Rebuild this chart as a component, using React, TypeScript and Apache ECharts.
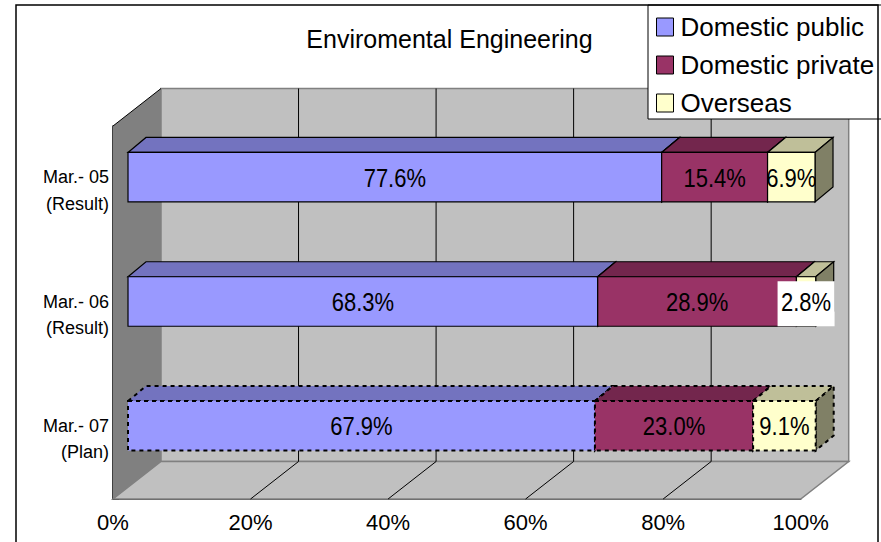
import React, { useEffect, useRef } from "react";
import * as echarts from "echarts";

const categories = ["Mar.- 05\n(Result)", "Mar.- 06\n(Result)", "Mar.- 07\n(Plan)"];
const seriesNames = ["Domestic public", "Domestic private", "Overseas"];
const domesticPublic = [77.6, 68.3, 67.9];
const domesticPrivate = [15.4, 28.9, 23.0];
const overseas = [6.9, 2.8, 9.1];
const xTicks = [0, 20, 40, 60, 80, 100];
const planRow = 2;

const FRONT = ["#9999FF", "#993366", "#FFFFCC"];
const TOP = ["#7373BF", "#73264D", "#BFBF99"];
const SIDE = ["#4D4D80", "#4D1A33", "#808066"];
const FONT = "'Liberation Sans', Arial, sans-serif";
const WALL_DX = 48, WALL_DY = 37.5;
const BAR_DX = 18, BAR_DY = 15, BAR_H = 49.5, BAR_OFF_X = 15, BAR_OFF_Y = 11;

const seriesValues = [domesticPublic, domesticPrivate, overseas];

function wallSeries(): any {
  return {
    type: "custom",
    name: "walls",
    silent: true,
    z: 1,
    clip: false,
    data: xTicks.map((t) => [t, 0]),
    encode: { x: 0, y: 1 },
    renderItem: (params: any, api: any) => {
      const cs = params.coordSys;
      const v = api.value(0);
      const x = api.coord([v, 0])[0];
      const top = cs.y, bot = cs.y + cs.height;
      const children: any[] = [];
      if (v === 0) {
        const right = cs.x + cs.width;
        children.push(
          { type: "polygon", shape: { points: [[cs.x + WALL_DX, top - WALL_DY], [right + WALL_DX, top - WALL_DY], [right + WALL_DX, bot - WALL_DY], [cs.x + WALL_DX, bot - WALL_DY]] }, style: { fill: "#C0C0C0", stroke: "#808080", lineWidth: 1.5 } },
          { type: "polygon", shape: { points: [[cs.x, bot], [right, bot], [right + WALL_DX, bot - WALL_DY], [cs.x + WALL_DX, bot - WALL_DY]] }, style: { fill: "#C0C0C0", stroke: "#808080", lineWidth: 1.5 } },
          { type: "polygon", shape: { points: [[cs.x, top], [cs.x + WALL_DX, top - WALL_DY], [cs.x + WALL_DX, bot - WALL_DY], [cs.x, bot]] }, style: { fill: "#808080", stroke: "none" } },
          { type: "line", shape: { x1: cs.x, y1: top, x2: cs.x + WALL_DX, y2: top - WALL_DY }, style: { stroke: "#000", lineWidth: 1 } }
        );
      } else if (v !== 100) {
        children.push(
          { type: "line", shape: { x1: x + WALL_DX, y1: top - WALL_DY, x2: x + WALL_DX, y2: bot - WALL_DY }, style: { stroke: "#000", lineWidth: 1 } },
          { type: "line", shape: { x1: x + WALL_DX, y1: bot - WALL_DY, x2: x, y2: bot }, style: { stroke: "#000", lineWidth: 1 } }
        );
      }
      return { type: "group", children };
    },
  };
}

function barSeries(si: number): any {
  const data = categories.map((_, row) => {
    let start = 0;
    for (let k = 0; k < si; k++) start += seriesValues[k][row];
    return [start, row, start + seriesValues[si][row], seriesValues[si][row]];
  });
  return {
    type: "custom",
    name: seriesNames[si],
    z: 5 + si,
    clip: false,
    data,
    encode: { x: [0, 2], y: 1 },
    itemStyle: { color: FRONT[si] },
    renderItem: (_p: any, api: any) => {
      const row = api.value(1);
      const a = api.coord([api.value(0), row]);
      const b = api.coord([api.value(2), row]);
      const x0 = a[0] + BAR_OFF_X, x1 = b[0] + BAR_OFF_X;
      const yc = a[1] - BAR_OFF_Y;
      const y0 = yc - BAR_H / 2, y1 = yc + BAR_H / 2;
      const plan = row === planRow;
      const line = plan
        ? { stroke: "#000", lineWidth: 2, lineDash: [4, 4] }
        : { stroke: "#000", lineWidth: 1.2 };
      const val = api.value(3);
      const whiteBox = row === 1 && si === 2;
      const children: any[] = [
        { type: "polygon", shape: { points: [[x0, y0], [x0 + BAR_DX, y0 - BAR_DY], [x1 + BAR_DX, y0 - BAR_DY], [x1, y0]] }, style: { fill: TOP[si], ...line } },
        { type: "polygon", shape: { points: [[x1, y0], [x1 + BAR_DX, y0 - BAR_DY], [x1 + BAR_DX, y1 - BAR_DY], [x1, y1]] }, style: { fill: SIDE[si], ...line } },
        { type: "rect", shape: { x: x0, y: y0, width: x1 - x0, height: y1 - y0 }, style: { fill: FRONT[si], ...line } },
      ];
      if (whiteBox) {
        children.push({ type: "rect", shape: { x: (x0 + x1) / 2 - 28.5, y: y1 - 45, width: 57, height: 45 }, style: { fill: "#FFFFFF", stroke: "none" } });
      }
      children.push({
        type: "text",
        x: (x0 + x1) / 2,
        y: yc + 1,
        scaleX: 0.88,
        style: { text: val.toFixed(1) + "%", font: `25px ${FONT}`, fill: "#000", align: "center", verticalAlign: "middle" },
      });
      return { type: "group", children };
    },
  };
}

export default function App() {
  const ref = useRef<HTMLDivElement>(null);
  useEffect(() => {
    const chart = echarts.init(ref.current!, undefined, { renderer: "svg" });
    chart.setOption({
      animation: false,
      backgroundColor: "#FFFFFF",
      title: {
        text: "Enviromental Engineering",
        left: 444.5,
        top: 21,
        textAlign: "center",
        textStyle: { fontFamily: FONT, fontSize: 25, fontWeight: "normal", color: "#000" },
      },
      grid: { left: 113, top: 126, width: 687.7, height: 373, containLabel: false },
      xAxis: {
        type: "value",
        min: 0,
        max: 100,
        interval: 20,
        axisLine: { show: true, lineStyle: { color: "#000", width: 1.5 } },
        axisTick: { show: true, inside: true, length: 5, lineStyle: { color: "#000" } },
        axisLabel: { formatter: "{value}%", fontFamily: FONT, fontSize: 22, color: "#000", margin: 12 },
        splitLine: { show: false },
      },
      yAxis: {
        type: "category",
        inverse: true,
        data: categories,
        axisLine: { show: true, lineStyle: { color: "#000", width: 1.5 } },
        axisTick: { show: true, inside: true, length: 6, alignWithLabel: false, lineStyle: { color: "#000" } },
        axisLabel: {
          margin: 4,
          align: "right",
          formatter: (v: string) => {
            const [first, second] = v.split("\n");
            return `{a|${first}}\n{b|${second}}`;
          },
          rich: {
            a: { fontFamily: FONT, fontSize: 18, lineHeight: 31, color: "#000", align: "right" },
            b: { fontFamily: FONT, fontSize: 18, lineHeight: 22, color: "#000", align: "right" },
          },
        },
        splitLine: { show: false },
      },
      legend: {
        left: 648,
        top: 5,
        orient: "vertical",
        itemWidth: 17,
        itemHeight: 18,
        itemGap: 12,
        padding: [9, 12, 3, 8],
        backgroundColor: "#FFFFFF",
        borderColor: "#000",
        borderWidth: 1,
        selectedMode: false,
        z: 20,
        textStyle: { fontFamily: FONT, fontSize: 26, color: "#000", padding: [0, 0, 0, 2] },
        data: seriesNames.map((name, i) => ({
          name,
          icon: "rect",
          itemStyle: { color: FRONT[i], borderColor: "#000", borderWidth: 1 },
        })),
      },
      graphic: [
        { type: "rect", silent: true, z: 30, shape: { x: 16, y: 5, width: 862, height: 600 }, style: { fill: "none", stroke: "#000", lineWidth: 1.5 } },
      ],
      series: [wallSeries(), barSeries(0), barSeries(1), barSeries(2)],
    });
    return () => chart.dispose();
  }, []);
  return <div ref={ref} style={{ position: "fixed", left: 0, top: 0, width: 881, height: 542 }} />;
}
